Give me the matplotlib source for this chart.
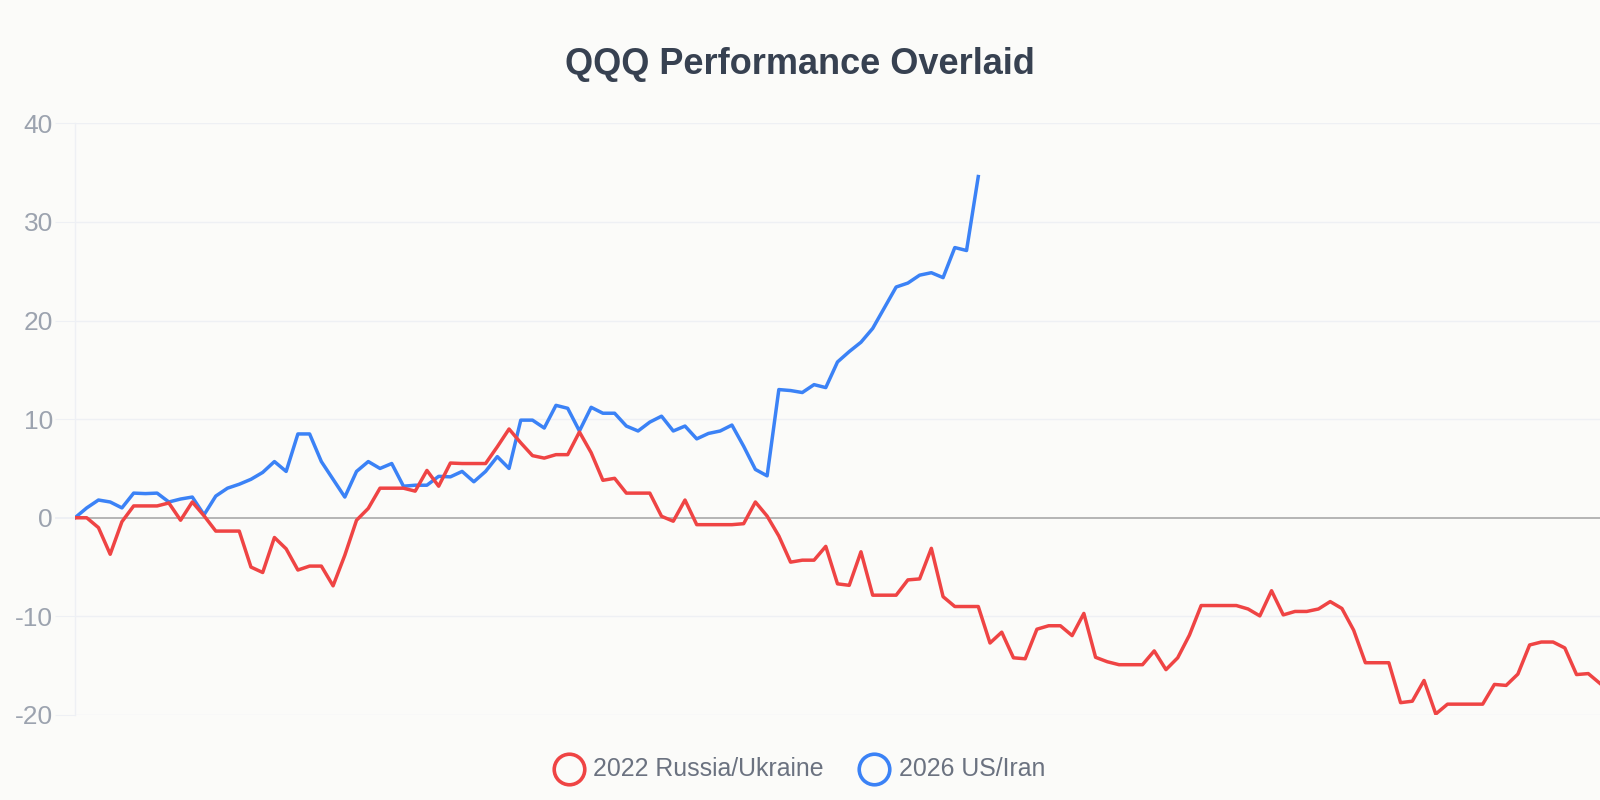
import matplotlib.pyplot as plt
from matplotlib.lines import Line2D
import numpy as np

# QQQ % change from event start, one value per trading day
russia_ukraine_2022 = [
    0.0, 0.0, -1.0, -3.7, -0.4, 1.2, 1.2, 1.2, 1.5, -0.25,
    1.6, 0.2, -1.35, -1.35, -1.35, -5.0, -5.55, -2.0, -3.15, -5.3,
    -4.9, -4.9, -6.9, -3.8, -0.25, 0.95, 3.0, 3.0, 3.0, 2.7,
    4.8, 3.2, 5.55, 5.5, 5.5, 5.5, 7.2, 9.0, 7.6, 6.3,
    6.05, 6.4, 6.4, 8.7, 6.6, 3.8, 4.0, 2.5, 2.5, 2.5,
    0.15, -0.35, 1.8, -0.7, -0.7, -0.7, -0.7, -0.6, 1.6, 0.17,
    -1.85, -4.5, -4.3, -4.3, -2.9, -6.7, -6.85, -3.45, -7.85, -7.85,
    -7.85, -6.3, -6.2, -3.1, -8.0, -9.0, -9.0, -9.0, -12.7, -11.6,
    -14.2, -14.3, -11.3, -10.95, -10.95, -11.95, -9.7, -14.15, -14.6, -14.9,
    -14.9, -14.9, -13.5, -15.4, -14.2, -11.9, -8.9, -8.9, -8.9, -8.9,
    -9.25, -9.95, -7.4, -9.85, -9.5, -9.5, -9.25, -8.5, -9.2, -11.4,
    -14.7, -14.7, -14.7, -18.75, -18.6, -16.5, -19.9, -18.9, -18.9, -18.9,
    -18.9, -16.9, -17.0, -15.85, -12.9, -12.6, -12.6, -13.2, -15.9, -15.8,
    -16.8,
]

us_iran_2026 = [
    0.0, 1.0, 1.8, 1.6, 1.0, 2.5, 2.45, 2.5, 1.6, 1.9,
    2.1, 0.3, 2.2, 3.0, 3.4, 3.9, 4.6, 5.7, 4.7, 8.5,
    8.5, 5.7, 3.9, 2.1, 4.7, 5.7, 5.0, 5.5, 3.2, 3.3,
    3.3, 4.2, 4.15, 4.7, 3.65, 4.7, 6.2, 5.0, 9.9, 9.9,
    9.1, 11.4, 11.1, 8.8, 11.2, 10.6, 10.6, 9.3, 8.8, 9.7,
    10.3, 8.8, 9.3, 8.0, 8.55, 8.8, 9.4, 7.25, 4.9, 4.25,
    13.0, 12.9, 12.7, 13.5, 13.2, 15.8, 16.85, 17.8, 19.2, 21.3,
    23.4, 23.8, 24.6, 24.85, 24.35, 27.4, 27.1, 34.6,
]

series_labels = ["2022 Russia/Ukraine", "2026 US/Iran"]
y_ticks = [-20, -10, 0, 10, 20, 30, 40]

# colours
bg = "#FBFBF9"
red = "#EF4444"
blue = "#3B82F6"
grid_c = "#EEF0F4"
zero_c = "#B5B5B5"
tick_c = "#9CA3AF"
title_c = "#374151"
legend_c = "#6B7280"

plt.rcParams['font.family'] = ['Liberation Sans', 'DejaVu Sans']

fig = plt.figure(figsize=(16, 8), dpi=100, facecolor=bg)
ax = fig.add_axes([75 / 1600, 1 - 715 / 800, 1525 / 1600, (715 - 123.3) / 800])
ax.set_facecolor(bg)

x_red = np.arange(len(russia_ukraine_2022))
x_blue = np.arange(len(us_iran_2026))

ax.plot(x_blue, us_iran_2026, color=blue, lw=2.5, solid_joinstyle='round', zorder=3)
ax.plot(x_red, russia_ukraine_2022, color=red, lw=2.5, solid_joinstyle='round', zorder=4)

ax.set_xlim(0, len(russia_ukraine_2022) - 1)
ax.set_ylim(-20, 40)
ax.set_xticks([])
ax.set_yticks(y_ticks)
ax.set_yticklabels([str(t) for t in y_ticks])

ax.grid(axis='y', color=grid_c, lw=1.0, zorder=0)
ax.tick_params(axis='y', length=14.4, width=0.8, color=grid_c, pad=1.5,
               labelsize=19, labelcolor=tick_c)

# zero line darker, tick mark included
for t, v in zip(ax.yaxis.get_major_ticks(), y_ticks):
    if v == 0:
        t.gridline.set_color(zero_c)
        t.gridline.set_linewidth(1.4)
        t.tick1line.set_color(zero_c)
        t.tick1line.set_markeredgewidth(1.4)

for s in ['top', 'right', 'bottom']:
    ax.spines[s].set_visible(False)
ax.spines['left'].set_color(grid_c)
ax.spines['left'].set_linewidth(1.0)

fig.text(0.5, 1 - 65 / 800, "QQQ Performance Overlaid", ha='center', va='center',
         fontsize=26, fontweight='bold', color=title_c)

# legend drawn by hand: hollow circles + labels
leg_y = 1 - 769 / 800
for cx, tx, col, lab in [(569, 593, red, series_labels[0]),
                         (874.5, 899, blue, series_labels[1])]:
    fig.add_artist(Line2D([cx / 1600], [leg_y], transform=fig.transFigure,
                          marker='o', markersize=22, markerfacecolor='none',
                          markeredgecolor=col, markeredgewidth=2.6, linestyle='none'))
    fig.text(tx / 1600, leg_y, lab, ha='left', va='center', fontsize=17.9, color=legend_c)

fig.savefig("out.png", dpi=100, facecolor=bg)
